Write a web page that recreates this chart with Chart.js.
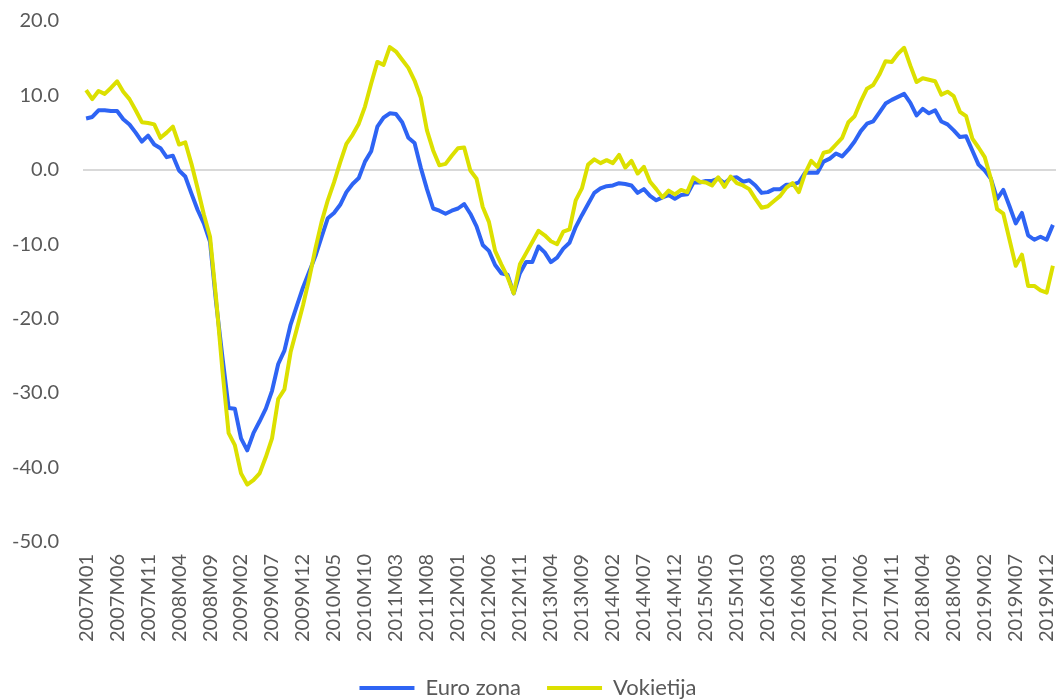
<!DOCTYPE html>
<html>
<head>
<meta charset="utf-8">
<script src="https://cdn.jsdelivr.net/npm/chart.js@4.4.1/dist/chart.umd.min.js"></script>
<style>
html,body{margin:0;padding:0;background:#fff;}
#wrap{width:1061px;height:700px;position:relative;}
</style>
</head>
<body>
<div id="wrap"><canvas id="c"></canvas></div>
<script>
// Categories: monthly periods 2007M01 .. 2020M01
const years = [2007,2008,2009,2010,2011,2012,2013,2014,2015,2016,2017,2018,2019,2020];
const months = ["01","02","03","04","05","06","07","08","09","10","11","12"];
const categories = [];
years.forEach(y => months.forEach(m => { if (categories.length < 157) categories.push(y + "M" + m); }));

const euroZona = [
 6.9, 7.1, 8.0, 8.0, 7.9, 7.9, 6.8, 6.1, 5.0, 3.8, 4.6, 3.4,
 2.9, 1.7, 1.9, -0.1, -0.9, -3.2, -5.4, -7.2, -9.7, -18.0, -25.2, -32.0,
 -32.1, -36.1, -37.7, -35.4, -33.8, -32.1, -29.7, -26.1, -24.3, -20.8, -18.3, -15.8,
 -13.7, -11.6, -9.0, -6.5, -5.8, -4.7, -3.0, -1.9, -1.1, 1.1, 2.5, 5.8,
 7.0, 7.6, 7.5, 6.4, 4.3, 3.6, 0.3, -2.6, -5.2, -5.5, -5.9, -5.5,
 -5.2, -4.6, -5.9, -7.6, -10.1, -10.9, -12.8, -13.9, -14.1, -16.6, -13.9, -12.4,
 -12.4, -10.3, -11.1, -12.4, -11.8, -10.6, -9.8, -7.7, -6.1, -4.6, -3.1, -2.5,
 -2.2, -2.1, -1.8, -1.9, -2.1, -3.1, -2.6, -3.5, -4.1, -3.7, -3.4, -3.9,
 -3.4, -3.3, -1.7, -1.7, -1.5, -1.5, -1.2, -1.8, -1.1, -1.0, -1.6, -1.4,
 -2.1, -3.1, -3.0, -2.6, -2.6, -2.0, -2.0, -1.7, -0.4, -0.4, -0.4, 1.1,
 1.5, 2.2, 1.8, 2.7, 3.8, 5.2, 6.2, 6.5, 7.7, 8.9, 9.4, 9.8,
 10.2, 9.0, 7.3, 8.2, 7.6, 8.0, 6.5, 6.1, 5.3, 4.4, 4.5, 2.6,
 0.7, -0.1, -1.2, -3.9, -2.7, -4.9, -7.2, -5.8, -8.8, -9.4, -9.0, -9.4,
 -7.4
];

const vokietija = [
 10.7, 9.5, 10.6, 10.2, 11.0, 11.9, 10.5, 9.5, 8.0, 6.4, 6.3, 6.1,
 4.3, 5.0, 5.8, 3.4, 3.7, 0.8, -2.5, -6.0, -9.0, -17.5, -27.0, -35.4,
 -37.0, -40.8, -42.3, -41.7, -40.8, -38.6, -36.1, -30.8, -29.5, -24.5, -21.4, -18.2,
 -14.6, -10.6, -7.0, -4.1, -1.7, 1.0, 3.5, 4.7, 6.2, 8.5, 11.6, 14.5,
 14.1, 16.5, 15.9, 14.8, 13.7, 12.0, 9.7, 5.3, 2.6, 0.6, 0.8, 1.9,
 2.9, 3.0, -0.1, -1.2, -5.0, -7.0, -10.9, -12.7, -14.4, -16.6, -12.7, -11.2,
 -9.7, -8.2, -8.8, -9.6, -10.0, -8.3, -8.0, -4.1, -2.5, 0.7, 1.4, 0.9,
 1.3, 0.9, 2.0, 0.3, 1.2, -0.5, 0.4, -1.6, -2.6, -3.7, -2.8, -3.3,
 -2.7, -3.0, -1.0, -1.6, -1.7, -2.1, -1.0, -2.3, -0.9, -1.8, -2.1, -2.6,
 -3.9, -5.1, -4.9, -4.2, -3.5, -2.4, -1.8, -3.0, -0.5, 1.2, 0.4, 2.3,
 2.5, 3.4, 4.3, 6.4, 7.2, 9.2, 10.9, 11.4, 12.8, 14.6, 14.5, 15.6,
 16.4, 14.0, 11.8, 12.3, 12.1, 11.9, 10.1, 10.5, 9.9, 7.8, 7.2, 4.2,
 3.0, 1.7, -1.2, -5.3, -5.9, -9.4, -12.9, -11.4, -15.6, -15.6, -16.2, -16.5,
 -12.9
];

const yTicks = [-50, -40, -30, -20, -10, 0, 10, 20];
const seriesNames = ["Euro zona", "Vokietija"];
const colors = ["#2E64F4", "#DCE000"];
const textColor = "#595959";
const FONT = "Lato, 'Open Sans', sans-serif";

new Chart(document.getElementById("c"), {
  type: "line",
  data: {
    labels: categories,
    datasets: [
      { label: seriesNames[0], data: euroZona, borderColor: colors[0], backgroundColor: colors[0],
        borderWidth: 4, pointRadius: 0, tension: 0, order: 1, borderJoinStyle: "round" },
      { label: seriesNames[1], data: vokietija, borderColor: colors[1], backgroundColor: colors[1],
        borderWidth: 4, pointRadius: 0, tension: 0, order: 0, borderJoinStyle: "round" }
    ]
  },
  options: {
    responsive: true,
    maintainAspectRatio: false,
    animation: false,
    layout: { padding: { top: 21, right: 5, left: 0, bottom: -9 } },
    plugins: {
      tooltip: { enabled: false },
      legend: {
        position: "bottom",
        labels: {
          color: textColor,
          font: { family: FONT, size: 22 },
          boxWidth: 55,
          boxHeight: 4,
          padding: 26,
          sort: (a, b) => a.datasetIndex - b.datasetIndex,
          generateLabels: (chart) => chart.data.datasets.map((ds, i) => ({
            text: ds.label, fillStyle: ds.borderColor, strokeStyle: ds.borderColor,
            lineWidth: 0, hidden: !chart.isDatasetVisible(i), datasetIndex: i, fontColor: textColor
          }))
        }
      }
    },
    scales: {
      x: {
        offset: true,
        afterFit: (s) => { s.paddingLeft = 0; s.paddingRight = 0; s.height = s.height - 3; },
        grid: { display: false, drawTicks: false },
        border: { display: false },
        ticks: {
          autoSkip: false, maxRotation: 90, minRotation: 90, padding: 12,
          color: textColor, font: { family: FONT, size: 20 },
          callback: function(v, i) { return i % 5 === 0 ? this.getLabelForValue(v) : ""; }
        }
      },
      y: {
        min: yTicks[0], max: yTicks[yTicks.length - 1],
        afterFit: (s) => { s.width = 83; s.paddingTop = 0; s.paddingBottom = 0; },
        grid: {
          drawTicks: false,
          color: (ctx) => (ctx.tick && ctx.tick.value === 0) ? "#D9D9D9" : "rgba(0,0,0,0)",
          lineWidth: 2
        },
        border: { display: false },
        ticks: {
          stepSize: yTicks[1] - yTicks[0],
          padding: 24, color: textColor, font: { family: FONT, size: 20 },
          callback: (v) => v.toFixed(1)
        }
      }
    }
  }
});
</script>
</body>
</html>
